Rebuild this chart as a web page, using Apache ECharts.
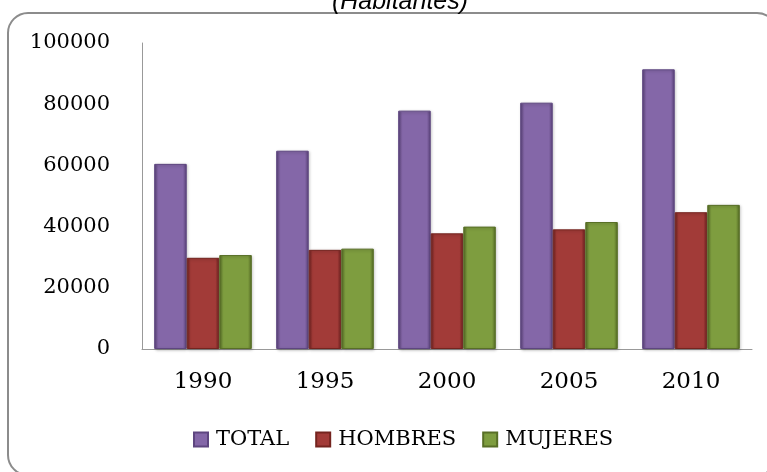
<!DOCTYPE html>
<html>
<head>
<meta charset="utf-8">
<script src="https://cdn.jsdelivr.net/npm/echarts@6/dist/echarts.min.js"></script>
<style>
  html, body { margin: 0; padding: 0; background: #fff; }
  #box { width: 767px; height: 472px; }
</style>
</head>
<body>
<div id="box"></div>
<script>
// datos (habitantes)
var years = ['1990', '1995', '2000', '2005', '2010'];
var total = [60500, 64800, 77900, 80500, 91400];
var hombres = [29800, 32400, 37800, 39100, 44700];
var mujeres = [30700, 32800, 40000, 41500, 47100];
var yTicks = [0, 20000, 40000, 60000, 80000, 100000];

var serif = '"DejaVu Serif", "Liberation Serif", serif';

function bevel(base, dark) {
    return new echarts.graphic.LinearGradient(0, 0, 1, 0, [
        {offset: 0, color: dark},
        {offset: 0.12, color: base},
        {offset: 0.88, color: base},
        {offset: 1, color: dark}
    ]);
}

var chart = echarts.init(document.getElementById('box'));
var option = {
    animation: false,
    title: {
        text: '(Habitantes)',
        left: 395,
        top: -15,
        textAlign: 'center',
        textStyle: {
            fontFamily: '"Liberation Sans", Arial, sans-serif',
            fontStyle: 'italic',
            fontWeight: 'normal',
            fontSize: 25,
            color: '#000'
        }
    },
    graphic: [{
        type: 'rect',
        shape: {x: 8, y: 13, width: 769, height: 462, r: 20},
        style: {fill: 'none', stroke: '#8c8c8c', lineWidth: 2},
        silent: true,
        z: -1
    }],
    legend: {
        left: 188,
        top: 424,
        itemWidth: 14,
        itemHeight: 14,
        itemGap: 26,
        icon: 'rect',
        textStyle: {fontFamily: serif, fontSize: 21, color: '#000', padding: [0, 0, 0, 3]},
        data: ['TOTAL', 'HOMBRES', 'MUJERES']
    },
    grid: {left: 142, right: 15, top: 43, bottom: 123},
    xAxis: {
        type: 'category',
        data: years,
        axisLine: {lineStyle: {color: '#999', width: 1}},
        axisTick: {show: false},
        axisLabel: {fontFamily: serif, fontSize: 23, color: '#000', margin: 22}
    },
    yAxis: {
        type: 'value',
        min: yTicks[0],
        max: yTicks[yTicks.length - 1],
        interval: yTicks[1] - yTicks[0],
        axisLine: {show: true, lineStyle: {color: '#999', width: 1}},
        axisTick: {show: false},
        splitLine: {show: false},
        axisLabel: {fontFamily: serif, fontSize: 21, color: '#000', margin: 32,
            formatter: function (v) { return String(v); }}
    },
    series: [
        {
            name: 'TOTAL', type: 'bar', data: total,
            barGap: '0%', barCategoryGap: '20%',
            itemStyle: {color: bevel('#8467a8', '#5a4279'), borderColor: '#5e4680', borderWidth: 1,
                shadowColor: 'rgba(0,0,0,0.25)', shadowBlur: 3, shadowOffsetX: 1, shadowOffsetY: 1}
        },
        {
            name: 'HOMBRES', type: 'bar', data: hombres,
            itemStyle: {color: bevel('#a23b38', '#6c201e'), borderColor: '#74241f', borderWidth: 1,
                shadowColor: 'rgba(0,0,0,0.25)', shadowBlur: 3, shadowOffsetX: 1, shadowOffsetY: 1}
        },
        {
            name: 'MUJERES', type: 'bar', data: mujeres,
            itemStyle: {color: bevel('#7e9d3f', '#546a24'), borderColor: '#586f26', borderWidth: 1,
                shadowColor: 'rgba(0,0,0,0.25)', shadowBlur: 3, shadowOffsetX: 1, shadowOffsetY: 1}
        }
    ]
};
chart.setOption(option);
</script>
</body>
</html>
